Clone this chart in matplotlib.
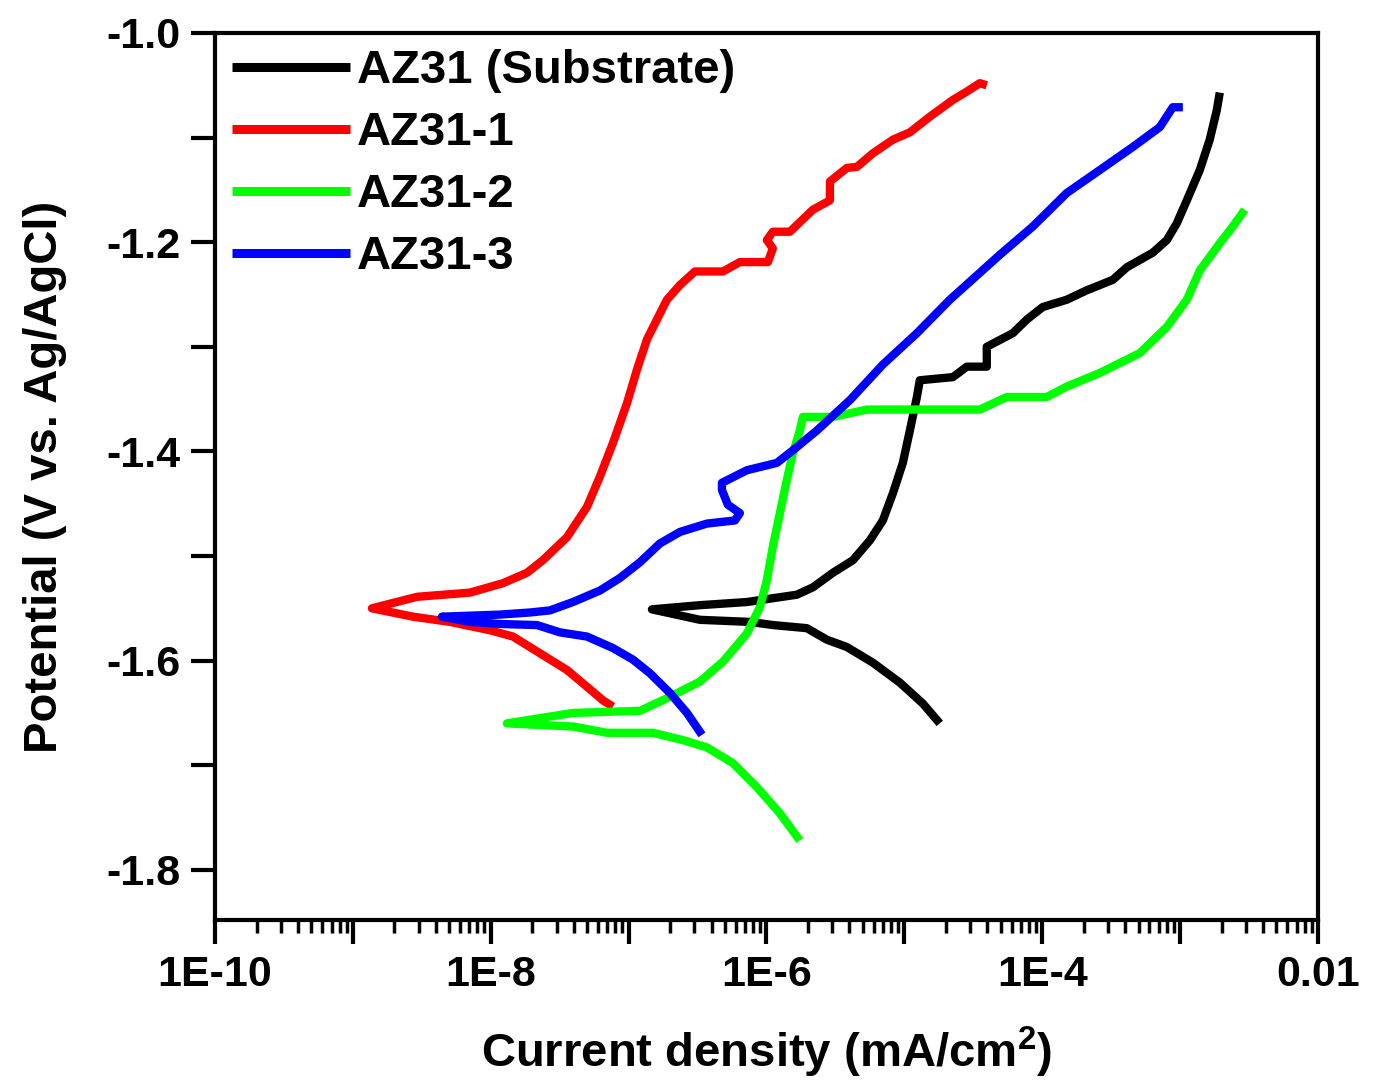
import numpy as np
import matplotlib
matplotlib.use("Agg")
import matplotlib.pyplot as plt
from matplotlib.ticker import FixedLocator, FixedFormatter, LogLocator, MultipleLocator, NullFormatter

plt.rcParams['font.family'] = ['Liberation Sans', 'DejaVu Sans']
plt.rcParams['font.weight'] = 'bold'
plt.rcParams['mathtext.fontset'] = 'custom'
plt.rcParams['mathtext.rm'] = 'Liberation Sans:bold'
plt.rcParams['mathtext.bf'] = 'Liberation Sans:bold'

# polarization curves: log10 of current density (mA/cm2) and potential (V vs Ag/AgCl)
# each series runs from the cathodic end, through the corrosion potential, to the anodic end
az31_logi = [-4.743, -4.866, -5.033, -5.228, -5.417, -5.562, -5.707, -5.954, -6.120, -6.483,
             -6.831, -6.483, -6.142, -5.780, -5.664, -5.518, -5.373, -5.250, -5.156, -5.083,
             -5.011, -4.960, -4.909, -4.888, -4.648, -4.547, -4.402, -4.402, -4.213, -4.112,
             -3.996, -3.822, -3.677, -3.488, -3.386, -3.198, -3.096, -3.024, -2.951, -2.857,
             -2.785, -2.734, -2.712]
az31_e = [-1.660, -1.641, -1.621, -1.602, -1.587, -1.580, -1.569, -1.566, -1.563, -1.561,
          -1.551, -1.547, -1.544, -1.537, -1.530, -1.516, -1.504, -1.485, -1.466, -1.440,
          -1.411, -1.380, -1.348, -1.332, -1.329, -1.319, -1.319, -1.300, -1.287, -1.274,
          -1.262, -1.255, -1.246, -1.236, -1.224, -1.210, -1.198, -1.182, -1.160, -1.131,
          -1.102, -1.074, -1.057]

az31_1_logi = [-7.114, -7.186, -7.302, -7.447, -7.643, -7.839, -8.006, -8.296, -8.564, -8.862,
               -8.535, -8.151, -7.912, -7.737, -7.622, -7.447, -7.302, -7.208, -7.114, -7.012,
               -6.940, -6.867, -6.795, -6.722, -6.628, -6.519, -6.316, -6.193, -5.990, -5.954,
               -5.997, -5.954, -5.830, -5.664, -5.540, -5.540, -5.417, -5.344, -5.228, -5.083,
               -4.960, -4.815, -4.648, -4.547, -4.453, -4.402]
az31_1_e = [-1.644, -1.638, -1.625, -1.609, -1.593, -1.577, -1.571, -1.563, -1.558, -1.550,
            -1.539, -1.535, -1.526, -1.516, -1.504, -1.482, -1.453, -1.424, -1.392, -1.354,
            -1.322, -1.293, -1.274, -1.255, -1.241, -1.228, -1.228, -1.219, -1.219, -1.206,
            -1.198, -1.190, -1.190, -1.169, -1.160, -1.142, -1.129, -1.128, -1.115, -1.102,
            -1.095, -1.080, -1.064, -1.056, -1.048, -1.050]

az31_2_logi = [-5.758, -5.903, -6.070, -6.244, -6.432, -6.606, -6.824, -7.157, -7.404, -7.883,
               -7.404, -6.918, -6.722, -6.483, -6.316, -6.142, -6.048, -5.997, -5.954, -5.903,
               -5.852, -5.809, -5.758, -5.736, -5.518, -5.272, -4.453, -4.257, -3.967, -3.822,
               -3.582, -3.292, -3.096, -2.951, -2.857, -2.712, -2.618, -2.531]
az31_2_e = [-1.772, -1.746, -1.721, -1.698, -1.683, -1.676, -1.669, -1.669, -1.663, -1.660,
            -1.650, -1.648, -1.636, -1.620, -1.601, -1.574, -1.549, -1.523, -1.491, -1.459,
            -1.427, -1.402, -1.380, -1.367, -1.367, -1.360, -1.360, -1.348, -1.348, -1.338,
            -1.325, -1.306, -1.281, -1.255, -1.227, -1.201, -1.185, -1.169]

az31_3_logi = [-6.468, -6.577, -6.700, -6.846, -6.969, -7.114, -7.302, -7.498, -7.665, -7.933,
               -8.151, -8.354, -7.933, -7.716, -7.571, -7.404, -7.208, -7.063, -6.918, -6.773,
               -6.628, -6.432, -6.229, -6.193, -6.280, -6.323, -6.323, -6.142, -5.925, -5.809,
               -5.634, -5.395, -5.156, -4.909, -4.670, -4.307, -4.068, -3.822, -3.582, -3.343,
               -3.147, -3.053, -2.980]
az31_3_e = [-1.671, -1.650, -1.631, -1.612, -1.599, -1.588, -1.577, -1.573, -1.566, -1.565,
            -1.563, -1.558, -1.556, -1.554, -1.552, -1.544, -1.533, -1.521, -1.506, -1.488,
            -1.477, -1.469, -1.466, -1.459, -1.451, -1.437, -1.430, -1.418, -1.411, -1.399,
            -1.380, -1.351, -1.317, -1.287, -1.255, -1.212, -1.185, -1.153, -1.131, -1.109,
            -1.090, -1.071, -1.071]

labels = ['AZ31 (Substrate)', 'AZ31-1', 'AZ31-2', 'AZ31-3']
colors = ['#000000', '#ff0000', '#00ff00', '#0000ff']
series = [(az31_logi, az31_e), (az31_1_logi, az31_1_e),
          (az31_2_logi, az31_2_e), (az31_3_logi, az31_3_e)]

x_ticks = [1e-10, 1e-9, 1e-8, 1e-7, 1e-6, 1e-5, 1e-4, 1e-3, 1e-2]
x_ticklabels = ['1E-10', '', '1E-8', '', '1E-6', '', '1E-4', '', '0.01']

fig = plt.figure(figsize=(13.74, 10.81), dpi=100)
ax = fig.add_axes([0.1565, 0.1489, 0.8027, 0.8206])

for (logi, e), c, lab in zip(series, colors, labels):
    ax.plot(10 ** np.array(logi), e, color=c, lw=6, label=lab,
            solid_joinstyle='round', solid_capstyle='butt')

ax.set_xscale('log')
ax.set_xlim(1e-10, 1e-2)
ax.set_ylim(-1.848, -1.0)

ax.xaxis.set_major_locator(FixedLocator(x_ticks))
ax.xaxis.set_major_formatter(FixedFormatter(x_ticklabels))
ax.xaxis.set_minor_locator(LogLocator(base=10, subs=np.arange(2, 10), numticks=100))
ax.xaxis.set_minor_formatter(NullFormatter())
ax.yaxis.set_major_locator(MultipleLocator(0.2))
ax.yaxis.set_minor_locator(MultipleLocator(0.1))
ax.yaxis.set_major_formatter(plt.FuncFormatter(lambda v, p: '%.1f' % v))

ax.tick_params(axis='both', which='major', direction='out', length=17, width=3,
               labelsize=31, pad=8, top=False, right=False)
ax.tick_params(axis='x', which='minor', direction='out', length=9, width=2.5, top=False)
ax.tick_params(axis='y', which='minor', direction='out', length=17, width=3, right=False)
for s in ax.spines.values():
    s.set_linewidth(3)

ax.set_xlabel('Current density (mA/cm$^{2}$)', fontsize=34, fontweight='bold', labelpad=22)
ax.set_ylabel('Potential (V vs. Ag/AgCl)', fontsize=34, fontweight='bold', labelpad=28)

leg = ax.legend(loc='upper left', frameon=False, fontsize=34, handlelength=2.5,
                handletextpad=0.15, labelspacing=0.38, borderaxespad=0.1,
                borderpad=0.25)
for line in leg.get_lines():
    line.set_linewidth(6.5)

fig.savefig('out.png', dpi=100)
